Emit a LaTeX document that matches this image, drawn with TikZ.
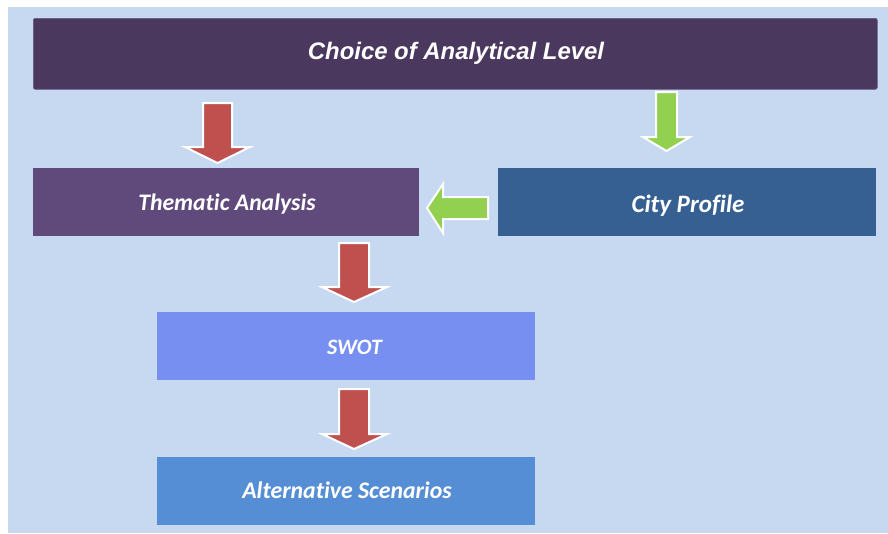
\documentclass[tikz,border=0pt]{standalone}
\usepackage{fontspec}
\newfontfamily\arialfont{Liberation Sans}
\newfontfamily\calfont[Ligatures=NoCommon]{Carlito}
\definecolor{bgblue}{HTML}{C6D9F1}
\definecolor{topbar}{HTML}{4A385E}
\definecolor{topedge}{HTML}{6A5A86}
\definecolor{thempurple}{HTML}{604A7B}
\definecolor{cityblue}{HTML}{366092}
\definecolor{swotblue}{HTML}{768FF0}
\definecolor{altblue}{HTML}{558ED5}
\definecolor{arrred}{HTML}{C0504D}
\definecolor{arrgreen}{HTML}{92D050}
\begin{document}
\begin{tikzpicture}[x=1pt,y=-1pt,
  boxstyle/.style={inner sep=0pt, anchor=north west, text=white},
  labelC/.style={text=white, anchor=base, inner sep=0pt, font=\calfont\fontsize{#1}{#1}\selectfont\bfseries\itshape},
  blockarrow/.style={draw=white, line width=2pt, line join=miter}]
\useasboundingbox (0,0) rectangle (888,533);
\fill[white] (0,0) rectangle (888,533);
\fill[bgblue] (8,7) rectangle (888,533);
% boxes
\node[boxstyle, fill=topbar, draw=topedge, line width=0.6pt, rounded corners=2pt, minimum width=844pt, minimum height=71pt] (top) at (33,18) {};
\node[text=white, anchor=base, inner sep=0pt, font=\arialfont\fontsize{23.9}{24}\selectfont\bfseries\itshape] (toplabel) at (456,59.5) {Choice of Analytical Level};
\node[boxstyle, fill=thempurple, minimum width=386pt, minimum height=68pt] (them) at (33,168) {};
\node[labelC=23.7] (themlabel) at (227,210) {Thematic Analysis};
\node[boxstyle, fill=cityblue, minimum width=378pt, minimum height=68pt] (city) at (498,168) {};
\node[labelC=25] (citylabel) at (688,212) {City Profile};
\node[boxstyle, fill=swotblue, minimum width=378pt, minimum height=68pt] (swot) at (157,312) {};
\node[labelC=22] (swotlabel) at (354.5,354) {SWOT};
\node[boxstyle, fill=altblue, minimum width=378pt, minimum height=68pt] (alt) at (157,457) {};
\node[labelC=23.8] (altlabel) at (347,498) {Alternative Scenarios};
% block arrows
% red: top -> thematic
\coordinate (r1) at (217.5,103);
\draw[blockarrow, fill=arrred] (r1) ++(-14.5,0) -- ++(29,0) -- ++(0,44) -- ++(18,0) -- (217.5,163) -- (185,147) -- (203,147) -- cycle;
% green: top -> city
\coordinate (g1) at (666.5,92);
\draw[blockarrow, fill=arrgreen] (g1) ++(-10.5,0) -- ++(21,0) -- ++(0,45) -- ++(13,0) -- (666.5,151) -- (643,137) -- (656,137) -- cycle;
% green: city -> thematic
\coordinate (g2) at (488,208);
\draw[blockarrow, fill=arrgreen] (g2) ++(0,-11) -- ++(0,22) -- (443,219) -- (443,233) -- (427,208) -- (443,184) -- (443,197) -- cycle;
% red: thematic -> swot
\coordinate (r2) at (354,243);
\draw[blockarrow, fill=arrred] (r2) ++(-15,0) -- ++(30,0) -- ++(0,44) -- ++(18,0) -- (354,302) -- (322,287) -- (339,287) -- cycle;
% red: swot -> alternatives
\coordinate (r3) at (354,389);
\draw[blockarrow, fill=arrred] (r3) ++(-15,0) -- ++(30,0) -- ++(0,45) -- ++(18,0) -- (354,449) -- (322,434) -- (339,434) -- cycle;
\end{tikzpicture}
\end{document}
